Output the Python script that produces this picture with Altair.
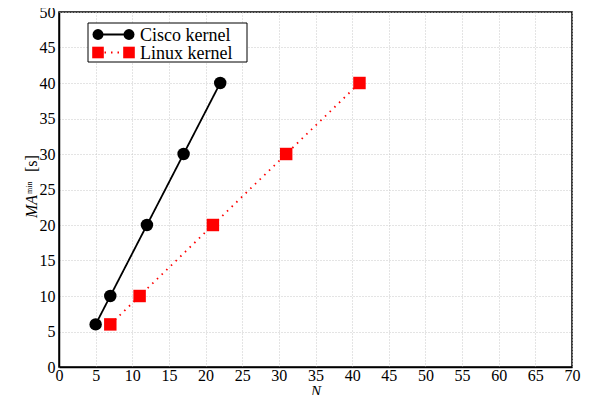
import altair as alt
import pandas as pd

# data
cisco_N = [5, 7, 12, 17, 22]
cisco_MA = [6, 10, 20, 30, 40]
linux_N = [7, 11, 21, 31, 41]
linux_MA = [6, 10, 20, 30, 40]
series_names = ["Cisco kernel", "Linux kernel"]
x_ticks = list(range(0, 75, 5))
y_ticks = list(range(0, 55, 5))

df = pd.DataFrame({
    "N": cisco_N + linux_N,
    "MA": cisco_MA + linux_MA,
    "series": [series_names[0]] * len(cisco_N) + [series_names[1]] * len(linux_N),
})

FONT = "'Liberation Serif', 'Times New Roman', Times, 'DejaVu Serif', serif"
colors = ["#000000", "#ff0000"]
dashes = [[1, 0], [1.5, 5]]
shapes = ["circle", "square"]

x_enc = alt.X("N:Q", scale=alt.Scale(domain=[0, 70], nice=False),
              axis=alt.Axis(values=x_ticks, title="N", titleFontStyle="italic",
                            titleFont=FONT, titleFontSize=15, titleFontWeight="normal",
                            titleColor="black", titleY=28, titleBaseline="alphabetic",
                            labelFont=FONT, labelFontSize=16, labelColor="black",
                            labelPadding=0, labelFlush=False))
y_enc = alt.Y("MA:Q", scale=alt.Scale(domain=[0, 50], nice=False),
              axis=alt.Axis(values=y_ticks, title=None, labelPadding=4,
                            labelFont=FONT, labelFontSize=16, labelColor="black"))

base = alt.Chart(df)

lines = base.mark_line(strokeWidth=1.8).encode(
    x=x_enc, y=y_enc,
    color=alt.Color("series:N", scale=alt.Scale(domain=series_names, range=colors), legend=None),
    strokeDash=alt.StrokeDash("series:N", scale=alt.Scale(domain=series_names, range=dashes), legend=None),
)

cisco_pts = base.transform_filter(alt.datum.series == series_names[0]).mark_circle(
    color=colors[0], opacity=1, size=155).encode(x=x_enc, y=y_enc)
linux_pts = base.transform_filter(alt.datum.series == series_names[1]).mark_square(
    color=colors[1], opacity=1, size=155).encode(x=x_enc, y=y_enc)

# hand-built legend (box + one row per series)
leg_layers = [
    alt.Chart(pd.DataFrame({"k": [0]})).mark_rect(
        fill="white", stroke="black", strokeWidth=1
    ).encode(x=alt.value(29), x2=alt.value(188), y=alt.value(11), y2=alt.value(50))
]
row_y = [22.5, 40.5]
for name, col, dash, shp, ry in zip(series_names, colors, dashes, shapes, row_y):
    ldf = pd.DataFrame({"label": [name]})
    leg_layers.append(alt.Chart(ldf).mark_rule(color=col, strokeWidth=1.8, strokeDash=dash).encode(
        x=alt.value(39), x2=alt.value(70), y=alt.value(ry)))
    for sx in (39, 70):
        leg_layers.append(alt.Chart(ldf).mark_point(
            shape=shp, filled=True, color=col, opacity=1, size=120 if shp == "circle" else 135
        ).encode(x=alt.value(sx), y=alt.value(ry)))
    leg_layers.append(alt.Chart(ldf).mark_text(
        font=FONT, fontSize=18, align="left", baseline="middle", color="black"
    ).encode(x=alt.value(81), y=alt.value(ry + 1), text="label:N"))

t_ma = alt.Chart(pd.DataFrame({"t": ["MA"]})).mark_text(
    font=FONT, fontSize=16, fontStyle="italic", angle=270, align="left", baseline="middle", color="black"
).encode(x=alt.value(-27), y=alt.value(206), text="t:N")
t_min = alt.Chart(pd.DataFrame({"t": ["min"]})).mark_text(
    font=FONT, fontSize=8, angle=270, align="left", baseline="middle", color="black"
).encode(x=alt.value(-29), y=alt.value(182), text="t:N")
t_s = alt.Chart(pd.DataFrame({"t": ["[s]"]})).mark_text(
    font=FONT, fontSize=16, angle=270, align="left", baseline="middle", color="black"
).encode(x=alt.value(-27), y=alt.value(160), text="t:N")

chart = alt.layer(lines, cisco_pts, linux_pts, *leg_layers, t_ma, t_min, t_s).properties(
    width=513, height=355,
    background="white",
    autosize=alt.AutoSizeParams(type="none"),
    padding={"left": 51, "top": 4, "right": 10, "bottom": 28},
).configure_view(
    stroke="black", strokeWidth=1.5
).configure_axis(
    labelFont=FONT, labelFontSize=16, labelColor="black",
    ticks=False, domainColor="black", domainWidth=1.5,
    grid=True, gridColor="#c8c8c8", gridDash=[1, 2], gridWidth=1,
)

chart.save("out.html", embed_options={"renderer": "svg", "actions": False})
